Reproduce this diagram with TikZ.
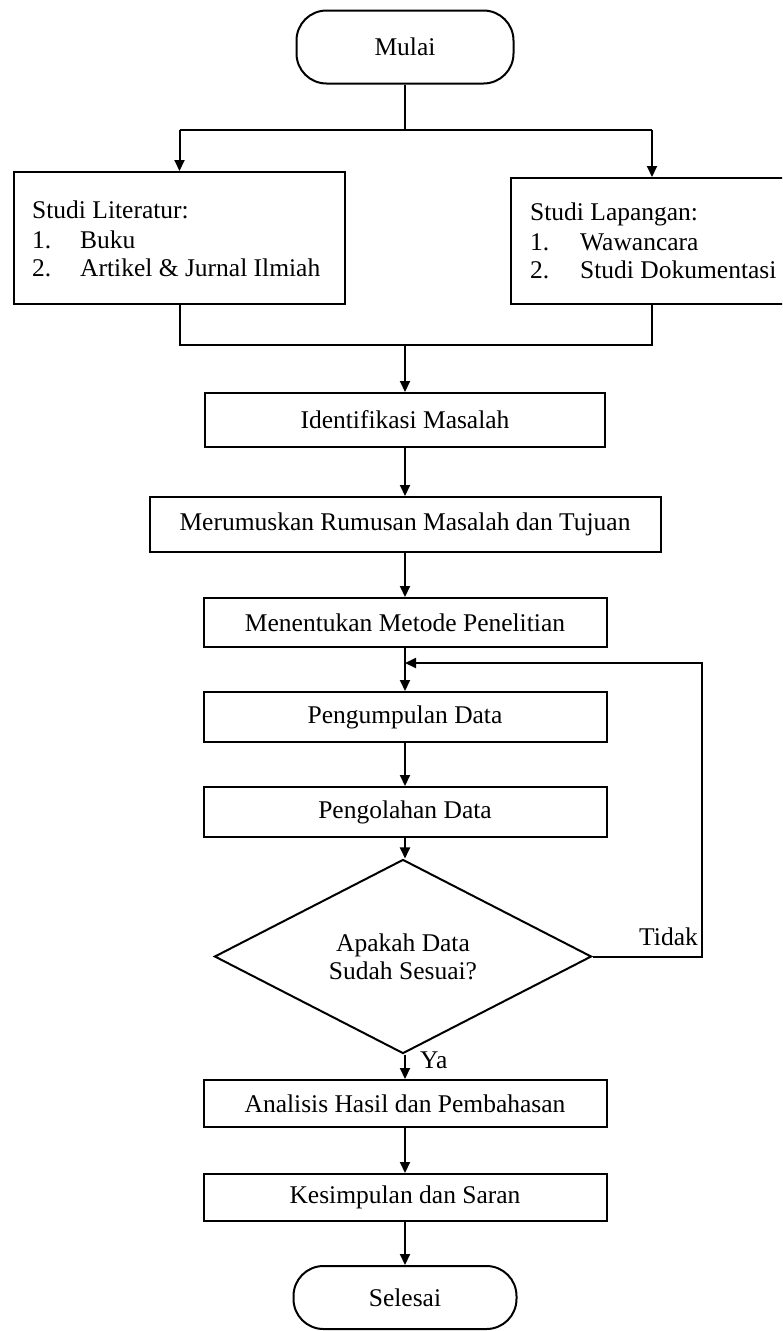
\documentclass[tikz,border=0pt]{standalone}
\usepackage{fontspec}
\setmainfont{Liberation Serif}
\usetikzlibrary{shapes.geometric,arrows.meta}
\begin{document}
\begin{tikzpicture}[x=1pt,y=-1pt,
  every node/.style={font=\fontsize{25.5}{28}\selectfont, inner sep=0pt},
  line/.style={line width=2pt},
  arr/.style={line width=2pt, -{Triangle[length=11pt,width=10pt]}},
  procbox/.style={draw, line width=2pt, align=center},
  term/.style={draw, line width=2pt, rounded corners=30pt},
  decision/.style={draw, diamond, line width=2pt, align=center},
  txt/.style={anchor=base west}]
\useasboundingbox (0,0) rectangle (782,1331);
\clip (0,0) rectangle (782,1331);

% nodes
\node[term, minimum width=217pt, minimum height=73pt] (mulai) at (405,47) {Mulai};
\node[procbox, minimum width=331pt, minimum height=132pt] (lit) at (179.5,238) {};
\node[procbox, minimum width=275pt, minimum height=126pt] (lap) at (648.5,241) {};
\node[procbox, minimum width=400pt, minimum height=54pt] (iden) at (405,420) {Identifikasi Masalah};
\node[procbox, minimum width=511pt, minimum height=55pt] (rumus) at (405,524.5) {Merumuskan Rumusan Masalah dan Tujuan};
\node[procbox, minimum width=403pt, minimum height=49pt] (metode) at (405,622.5) {Menentukan Metode Penelitian};
\node[procbox, minimum width=403pt, minimum height=50pt] (kumpul) at (405,717) {Pengumpulan Data};
\node[procbox, minimum width=403pt, minimum height=50pt] (olah) at (405,812) {Pengolahan Data};
\node[decision, minimum width=377pt, minimum height=153pt] (cek) at (403,956.5) {Apakah Data\\Sudah Sesuai?};
\node[procbox, minimum width=403pt, minimum height=47pt] (analisis) at (405,1103.5) {Analisis Hasil dan Pembahasan};
\node[procbox, minimum width=403pt, minimum height=47pt] (simpul) at (405,1197.5) {Kesimpulan dan Saran};
\node[term, minimum width=223pt, minimum height=63pt] (selesai) at (405,1297.5) {Selesai};

% box texts
\node[txt] (lit0) at (32,218) {Studi Literatur:};
\node[txt] (lit1n) at (32,248) {1.};
\node[txt] (lit1) at (80,248) {Buku};
\node[txt] (lit2n) at (32,276) {2.};
\node[txt] (lit2) at (80,276) {Artikel \& Jurnal Ilmiah};
\node[txt] (lap0) at (530,220) {Studi Lapangan:};
\node[txt] (lap1n) at (530,250) {1.};
\node[txt] (lap1) at (580,250) {Wawancara};
\node[txt] (lap2n) at (530,278) {2.};
\node[txt] (lap2) at (580,278) {Studi Dokumentasi};

% coordinates
\coordinate (split) at (405,130);
\coordinate (join) at (405,345);
\coordinate (loopR) at (702,663);

% connectors
\draw[line] (mulai.south) -- (split);
\draw[line] (lit.north |- split) -- ([xshift=3.5pt]lap.north |- split);
\draw[arr] (lit.north |- split) -- (lit.north);
\draw[arr] ([xshift=3.5pt]lap.north |- split) -- ([xshift=3.5pt]lap.north);
\draw[line] (lit.south) -- (lit.south |- join) -- ([xshift=3.5pt]lap.south |- join) -- ([xshift=3.5pt]lap.south);
\draw[arr] (join) -- (iden.north);
\draw[arr] (iden.south) -- (rumus.north);
\draw[arr] (rumus.south) -- (metode.north);
\draw[arr] (metode.south) -- (kumpul.north);
\draw[arr] (kumpul.south) -- (olah.north);
\draw[arr] (olah.south) -- (olah.south |- cek.north);
\draw[arr] (cek.east) -| (loopR) -- (metode.south |- loopR);
\draw[arr] (cek.south -| analisis.north) -- (analisis.north);
\draw[arr] (analisis.south) -- (simpul.north);
\draw[arr] (simpul.south) -- (selesai.north);

% labels
\node[anchor=base east] (tidak) at (698,945) {Tidak};
\node[anchor=base west] (ya) at (420,1068) {Ya};
\end{tikzpicture}
\end{document}
